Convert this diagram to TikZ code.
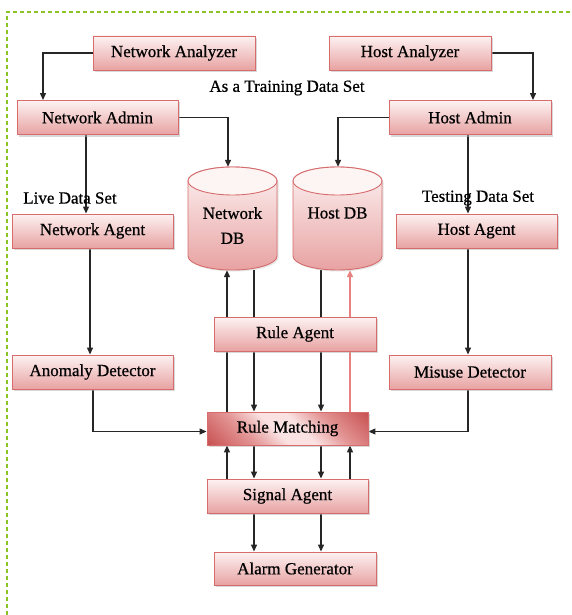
\documentclass[tikz,border=0pt]{standalone}
\usepackage{fontspec}
\setmainfont{Liberation Serif}
\newfontface\semiface{Liberation Serif}[FakeBold=0.6]
\usetikzlibrary{arrows.meta,shadows,backgrounds}
\definecolor{bxborder}{RGB}{214,108,108}
\definecolor{bxtop}{RGB}{253,242,242}
\definecolor{bxbot}{RGB}{232,162,162}
\definecolor{rmdark}{RGB}{200,82,82}
\definecolor{rmmid}{RGB}{228,150,150}
\definecolor{rmlight}{RGB}{250,226,226}
\definecolor{pinkline}{RGB}{232,128,128}
\definecolor{dashgreen}{RGB}{140,196,40}
\definecolor{dbtopfill}{RGB}{253,244,244}
\pgfdeclareverticalshading{rmshade}{100bp}{color(0bp)=(rmdark); color(15bp)=(rmdark); color(33bp)=(rmmid); color(45bp)=(rmlight); color(55bp)=(rmlight); color(67bp)=(rmmid); color(85bp)=(rmdark); color(100bp)=(rmdark)}
\begin{document}
\begin{tikzpicture}[x=1pt,y=-1pt,
  txt/.style={font=\semiface\fontsize{17}{25}\selectfont, text=black},
  box/.style={txt, draw=bxborder, line width=0.9pt, top color=bxtop, bottom color=bxbot,
    minimum height=34pt, inner sep=0pt,
    drop shadow={shadow xshift=2pt, shadow yshift=-2pt, fill=black!30}},
  rmbox/.style={box, shading=rmshade, shading angle=-45},
  anchorbox/.style={inner sep=0pt, minimum width=89pt, minimum height=103pt},
  dbbody/.style={draw=bxborder, line width=0.9pt, top color=bxtop, bottom color=bxbot,
    drop shadow={shadow xshift=1.5pt, shadow yshift=-1.5pt, fill=black!20}},
  dbtop/.style={draw=bxborder, line width=0.9pt, fill=dbtopfill},
  conn/.style={line width=1.25pt, draw=black!85, -{Triangle[length=7pt,width=6pt]}},
  pconn/.style={conn, draw=pinkline, -{Triangle[length=7pt,width=6pt,fill=pinkline]}}]
\useasboundingbox (0,0) rectangle (572,615);

% databases
\node[anchorbox] (NDB) at (232.5,218.5) {};
\node[anchorbox] (HDB) at (337.5,218.5) {};
\path[dbbody] (188,181) -- (188,256) arc[start angle=180,end angle=360,x radius=44.5pt,y radius=14pt]
  -- (277,181) arc[start angle=0,end angle=180,x radius=44.5pt,y radius=14pt] -- cycle;
\draw[dbtop] (232.5,181) ellipse [x radius=44.5pt, y radius=14pt];
\path[dbbody] (293,181) -- (293,256) arc[start angle=180,end angle=360,x radius=44.5pt,y radius=14pt]
  -- (382,181) arc[start angle=0,end angle=180,x radius=44.5pt,y radius=14pt] -- cycle;
\draw[dbtop] (337.5,181) ellipse [x radius=44.5pt, y radius=14pt];
\node[txt, align=center] (NDBt) at (232.5,225.5) {Network\\DB};
\node[txt] (HDBt) at (337.5,213) {Host DB};

% boxes
\node[box, minimum width=162pt] (NA)  at (174,53)    {Network Analyzer};
\node[box, minimum width=162pt] (HA)  at (410,53)    {Host Analyzer};
\node[box, minimum width=161pt] (NAd) at (97.5,117.5) {Network Admin};
\node[box, minimum width=162pt] (HAd) at (470,117.5) {Host Admin};
\node[box, minimum width=161pt] (NAg) at (92.5,231)  {Network Agent};
\node[box, minimum width=161pt] (HAg) at (476.5,231) {Host Agent};
\node[box, minimum width=162pt] (RA)  at (295,334)   {Rule Agent};
\node[box, minimum width=161pt] (AD)  at (92.5,372)  {Anomaly Detector};
\node[box, minimum width=162pt] (MD)  at (470,372)   {Misuse Detector};
\node[rmbox, minimum width=161pt, minimum height=33pt] (RM) at (287.5,428.5) {Rule Matching};
\node[box, minimum width=161pt] (SA)  at (287.5,496) {Signal Agent};
\node[box, minimum width=162pt, minimum height=33pt] (AG) at (295,568.5) {Alarm Generator};

% labels
\node[txt] (lt) at (287,88)  {As a Training Data Set};
\node[txt] (ll) at (70,198)  {Live Data Set};
\node[txt] (lr) at (478,198) {Testing Data Set};

% x positions of vertical connector runs
\coordinate (xa) at (43,0);
\coordinate (xb) at (533,0);
\coordinate (xc) at (228,0);
\coordinate (xd) at (338,0);
\coordinate (xe) at (86,0);
\coordinate (xf) at (468,0);
\coordinate (xg) at (90,0);
\coordinate (xh) at (93,0);
\coordinate (xi) at (227,0);
\coordinate (xj) at (254,0);
\coordinate (xk) at (321,0);
\coordinate (xl) at (350,0);

\begin{scope}[on background layer]
\fill[white] (0,0) rectangle (572,615);
\draw[color=dashgreen, line width=1.1pt, dash pattern=on 4pt off 3pt] (7,615) -- (7,12) -- (572,12);
\draw[conn] (NA.west) -| (xa |- NAd.north);
\draw[conn] (HA.east) -| (xb |- HAd.north);
\draw[conn] (NAd.east) -| (xc |- NDB.north);
\draw[conn] (HAd.west) -| (xd |- HDB.north);
\draw[conn] (xe |- NAd.south) -- (xe |- NAg.north);
\draw[conn] (xf |- HAd.south) -- (xf |- HAg.north);
\draw[conn] (xg |- NAg.south) -- (xg |- AD.north);
\draw[conn] (xf |- HAg.south) -- (xf |- MD.north);
\draw[conn] (xh |- AD.south) |- ([yshift=-3pt]RM.west);
\draw[conn] (xf |- MD.south) |- ([yshift=-3pt]RM.east);
\draw[conn] (xi |- RM.north) -- (xi |- NDB.south);
\draw[conn] (xj |- NDB.south) -- (xj |- RM.north);
\draw[conn] (xk |- HDB.south) -- (xk |- RM.north);
\draw[pconn] (xl |- RM.north) -- (xl |- HDB.south);
\draw[conn] (xi |- SA.north) -- (xi |- RM.south);
\draw[conn] (xj |- RM.south) -- (xj |- SA.north);
\draw[conn] (xk |- RM.south) -- (xk |- SA.north);
\draw[conn] (xl |- SA.north) -- (xl |- RM.south);
\draw[conn] (xj |- SA.south) -- (xj |- AG.north);
\draw[conn] (xk |- SA.south) -- (xk |- AG.north);
\end{scope}
\end{tikzpicture}
\end{document}
